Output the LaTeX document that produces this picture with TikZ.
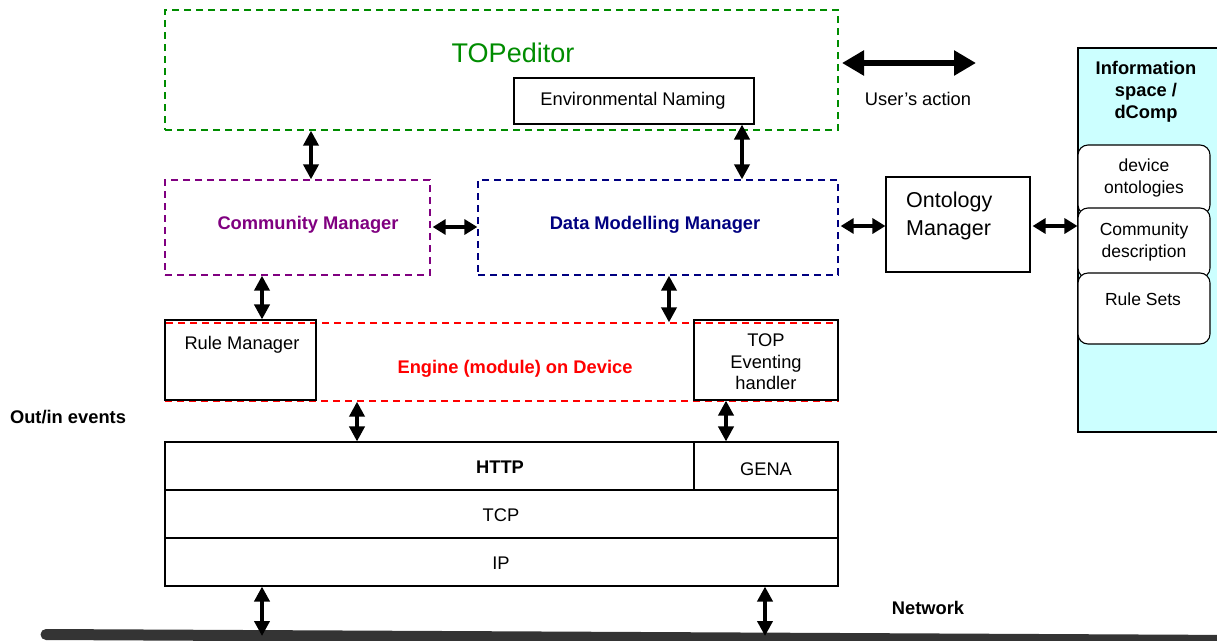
\documentclass[tikz,border=0pt]{standalone}
\usepackage{fontspec}
\setmainfont{Liberation Sans}
\usetikzlibrary{arrows.meta}
\definecolor{tgreen}{RGB}{0,140,0}
\definecolor{tpurple}{RGB}{128,0,128}
\definecolor{tnavy}{RGB}{0,0,128}
\definecolor{tred}{RGB}{255,0,0}
\definecolor{infocyan}{RGB}{204,255,255}
\definecolor{netgray}{RGB}{52,52,52}
\tikzset{
  box/.style={draw, line width=1.1pt, inner sep=0pt},
  dbox/.style={draw, line width=1.3pt, inner sep=0pt, dash pattern=on 7pt off 5pt},
  rbox/.style={draw, line width=1.1pt, inner sep=0pt, rounded corners=10pt, fill=white},
  txt/.style={font=\fontsize{18.3}{21.5}\selectfont, align=center, inner sep=0pt, yshift=-2pt},
  btxt/.style={font=\fontsize{18.3}{22}\selectfont\bfseries, align=center, inner sep=0pt, yshift=-2pt},
  darr/.style={line width=4.5pt, {Triangle[length=15pt,width=15pt]}-{Triangle[length=15pt,width=15pt]}},
  harr/.style={line width=4.5pt, {Triangle[length=13pt,width=15pt]}-{Triangle[length=13pt,width=15pt]}},
  bigarr/.style={line width=6pt, {Triangle[length=22pt,width=24pt]}-{Triangle[length=22pt,width=24pt]}},
}
\begin{document}
\begin{tikzpicture}[x=1pt,y=-1pt]
\useasboundingbox (0,0) rectangle (1217,640);

% Information space
\node[box, fill=infocyan, minimum width=150pt, minimum height=384pt] (info) at (1153,240) {};
\node[btxt] (infot) at (1146,90) {Information\\space /\\dComp};
\node[rbox, minimum width=132pt, minimum height=70pt] (devont) at (1144,180) {};
\node[txt, font=\fontsize{17.5}{22}\selectfont] (devontt) at (1144,176) {device\\ontologies};
\node[rbox, minimum width=132pt, minimum height=70pt] (commd) at (1144,243) {};
\node[txt, font=\fontsize{17.5}{22}\selectfont] (commdt) at (1144,240) {Community\\description};
\node[rbox, minimum width=132pt, minimum height=71pt] (rules) at (1144,308.5) {};
\node[txt, font=\fontsize{17.5}{22}\selectfont] (rulest) at (1143,297) {Rule Sets};

% TOPeditor
\node[dbox, draw=tgreen, minimum width=673pt, minimum height=120pt] (topeditor) at (501.5,70) {};
\node[txt, text=tgreen, font=\fontsize{27}{32}\selectfont] (topt) at (513,51) {TOPeditor};
\node[box, minimum width=240pt, minimum height=46pt] (env) at (634,101) {};
\node[txt] (envt) at (633,99) {Environmental Naming};

% User's action
\coordinate (ua1) at (842,63);
\coordinate (ua2) at (976,63);
\draw[bigarr] (ua1) -- (ua2);
\node[txt] (uat) at (918,97) {User’s action};

% Managers
\node[dbox, draw=tpurple, minimum width=265pt, minimum height=95pt] (cm) at (297.5,227.5) {};
\node[btxt, text=tpurple] (cmt) at (308,223) {Community Manager};
\node[dbox, draw=tnavy, minimum width=360pt, minimum height=95pt] (dmm) at (658,227.5) {};
\node[btxt, text=tnavy] (dmmt) at (655,223) {Data Modelling Manager};
\node[box, minimum width=144pt, minimum height=95pt] (onto) at (958,224.5) {};
\node[txt, align=left, font=\fontsize{21.5}{28}\selectfont, anchor=west] (ontot) at (906,214) {Ontology\\Manager};

% Engine
\node[dbox, draw=tred, minimum width=673pt, minimum height=78pt] (engine) at (501.5,362) {};
\node[btxt, text=tred] (enginet) at (515,367) {Engine (module) on Device};
\node[box, minimum width=151pt, minimum height=80pt] (rulemgr) at (240.5,360) {};
\node[txt] (rulemgrt) at (242,343) {Rule Manager};
\node[box, minimum width=144pt, minimum height=80pt] (toph) at (766,360) {};
\node[txt] (topht) at (766,360) {TOP\\Eventing\\handler};

% Protocol stack
\node[box, minimum width=673pt, minimum height=48pt] (http) at (501.5,466) {};
\node[btxt] (httpt) at (500,465) {HTTP};
\node[box, minimum width=144pt, minimum height=48pt] (gena) at (766,466) {};
\node[txt] (genat) at (766,467) {GENA};
\node[box, minimum width=673pt, minimum height=48pt] (tcp) at (501.5,514) {};
\node[txt] (tcpt) at (501,513) {TCP};
\node[box, minimum width=673pt, minimum height=48pt] (ip) at (501.5,562) {};
\node[txt] (ipt) at (501,561) {IP};

% Side labels
\node[btxt] (outin) at (68,415) {Out/in events};
\node[btxt] (nett) at (928,606) {Network};

% Network bar
\coordinate (netL) at (46,634.5);
\coordinate (netR) at (1240,640.5);
\draw[line width=11pt, netgray, line cap=round] (netL) -- (netR);

% helper coordinates
\coordinate (x311) at (311,0);
\coordinate (x742) at (742,0);
\coordinate (x262) at (262,0);
\coordinate (x669) at (669,0);
\coordinate (x357) at (357,0);
\coordinate (x726) at (726,0);
\coordinate (x765) at (765,0);
\coordinate (y227) at (0,227);
\coordinate (y226) at (0,226);
\coordinate (bar1) at (262,636);
\coordinate (bar2) at (765,636);

% Connectors
\draw[darr] (topeditor.south -| x311) -- (cm.north -| x311);
\draw[darr] (env.south -| x742) -- (dmm.north -| x742);
\draw[harr] ([xshift=2pt]cm.east |- y227) -- (dmm.west |- y227);
\draw[harr] ([xshift=2pt]dmm.east |- y226) -- (onto.west |- y226);
\draw[harr] ([xshift=2pt]onto.east |- y226) -- (info.west |- y226);
\draw[darr] (cm.south -| x262) -- (rulemgr.north -| x262);
\draw[darr] (dmm.south -| x669) -- (engine.north -| x669);
\draw[darr] (engine.south -| x357) -- (http.north -| x357);
\draw[darr] (toph.south -| x726) -- (gena.north -| x726);
\draw[darr] (ip.south -| x262) -- (bar1);
\draw[darr] (ip.south -| x765) -- (bar2);
\end{tikzpicture}
\end{document}
